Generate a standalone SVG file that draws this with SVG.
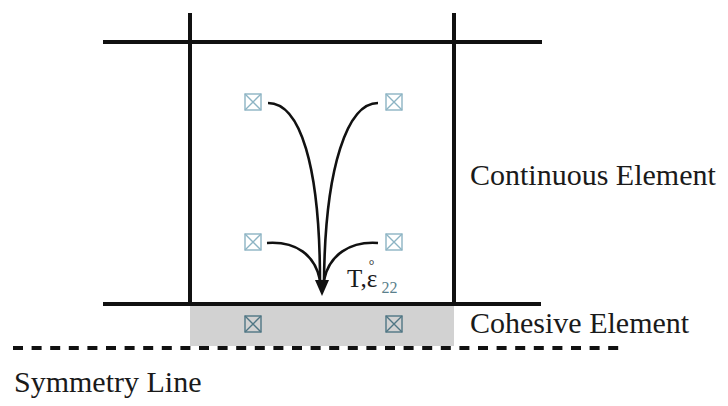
<svg xmlns="http://www.w3.org/2000/svg" width="728" height="406" viewBox="0 0 728 406" font-family="'Liberation Serif', 'Times New Roman', serif">
<defs>
<style>
.frame{stroke:#111;stroke-width:4;fill:none}
.curve{stroke:#111;stroke-width:2.6;fill:none}
.box{fill:none;stroke:#8db4c4;stroke-width:1.4}
.boxd{fill:none;stroke:#4f7684;stroke-width:1.4}
</style>
</defs>
<rect width="728" height="406" fill="#fff"/>

<g id="cohesive-element">
<rect x="190" y="305" width="264" height="41" fill="#d2d2d2"/>
</g>

<g id="frame">
<line class="frame" x1="103" y1="42" x2="542" y2="42"/>
<line class="frame" x1="103" y1="304" x2="541" y2="304"/>
<line class="frame" x1="190" y1="13" x2="190" y2="306"/>
<line class="frame" x1="454" y1="13" x2="454" y2="306"/>
</g>

<g id="symmetry-line">
<line x1="13" y1="348" x2="622" y2="348" stroke="#111" stroke-width="4" stroke-dasharray="10,8.6"/>
</g>

<g id="nodes">
<g id="n1" class="box"><rect x="245" y="94" width="16" height="16"/><path d="M245,94 L261,110 M261,94 L245,110"/></g>
<g id="n2" class="box"><rect x="386" y="94" width="16" height="16"/><path d="M386,94 L402,110 M402,94 L386,110"/></g>
<g id="n3" class="box"><rect x="245" y="234" width="16" height="16"/><path d="M245,234 L261,250 M261,234 L245,250"/></g>
<g id="n4" class="box"><rect x="386" y="234" width="16" height="16"/><path d="M386,234 L402,250 M402,234 L386,250"/></g>
<g id="n5" class="boxd"><rect x="245" y="316" width="16" height="16"/><path d="M245,316 L261,332 M261,316 L245,332"/></g>
<g id="n6" class="boxd"><rect x="386" y="316" width="16" height="16"/><path d="M386,316 L402,332 M402,316 L386,332"/></g>
</g>

<g id="connectors">
<path class="curve" d="M268,103 C300,103 320,165 320,282"/>
<path class="curve" d="M378,103 C348,103 325,165 324,282"/>
<path class="curve" d="M267,243 C296,241 315,255 320,280"/>
<path class="curve" d="M378,243 C350,241 329,255 324,280"/>
<polygon points="315,280 329,280 322,296" fill="#111"/>
</g>

<g id="flux-label">
<text x="347" y="287" font-size="25" fill="#1a1a1a">T,ε<tspan font-size="14" dx="-8.3" dy="-17">°</tspan><tspan font-size="16" dx="7" dy="23" fill="#5a7f8c">22</tspan></text>
</g>

<g id="labels">
<text x="470" y="185" font-size="30" fill="#1a1a1a">Continuous Element</text>
<text x="470" y="333" font-size="30" fill="#1a1a1a">Cohesive Element</text>
<text x="14" y="392" font-size="30" fill="#1a1a1a">Symmetry Line</text>
</g>
</svg>
